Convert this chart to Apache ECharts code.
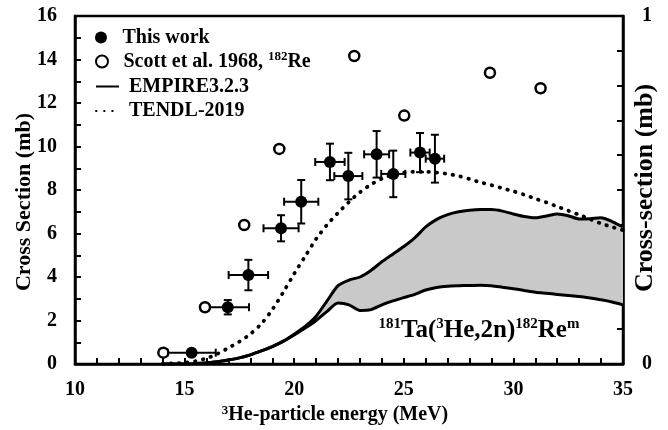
<!DOCTYPE html>
<html>
<head>
<meta charset="utf-8">
<script src="https://cdn.jsdelivr.net/npm/echarts@6/dist/echarts.min.js"></script>
<style>
  html, body { margin: 0; padding: 0; background: #fff; }
  #chart { width: 668px; height: 430px; }
</style>
</head>
<body>
<div id="chart"></div>
<script>
// Measured cross sections (this work): energy, value, and their uncertainties
const thisWorkEnergy = [15.32, 16.97, 17.91, 19.40, 20.32, 21.63, 22.47, 23.76, 24.52, 25.74, 26.42];
const thisWorkXS     = [0.52, 2.61, 4.09, 6.24, 7.46, 9.29, 8.64, 9.64, 8.74, 9.72, 9.44];
const thisWorkEErr   = [1.10, 0.97, 0.90, 0.80, 0.78, 0.67, 0.64, 0.57, 0.55, 0.44, 0.42];
const thisWorkXSErr  = [0.00, 0.33, 0.70, 0.60, 1.00, 0.84, 1.07, 1.07, 1.07, 0.90, 1.10];

// Scott et al. 1968, 182Re
const scottEnergy = [14.03, 15.93, 17.72, 19.32, 22.74, 25.02, 28.93, 31.24];
const scottXS     = [0.52, 2.61, 6.39, 9.89, 14.16, 11.42, 13.39, 12.68];

// TENDL-2019 evaluation
const tendlEnergy = [14, 14.5, 15, 15.5, 16, 16.5, 17, 17.5, 18, 18.5, 19, 19.5, 20, 20.5, 21, 21.5, 22, 22.5, 23, 23.5,
  24, 24.5, 25, 25.5, 26, 26.5, 27, 27.5, 28, 28.5, 29, 29.5, 30, 30.5, 31, 31.5, 32, 32.5, 33, 33.5, 34, 34.5, 35];
const tendlXS = [0.01, 0.03, 0.06, 0.13, 0.26, 0.47, 0.74, 1.03, 1.38, 1.85, 2.5, 3.3, 4.15, 4.95, 5.75, 6.4, 6.95, 7.45,
  7.9, 8.25, 8.52, 8.7, 8.8, 8.84, 8.84, 8.8, 8.74, 8.64, 8.5, 8.35, 8.22, 8.08, 7.94, 7.78, 7.6, 7.43, 7.24, 7.05, 6.86,
  6.66, 6.46, 6.3, 6.15];

// EMPIRE3.2.3 band: lower and upper limits
const empireEnergy = [14, 15, 15.5, 16, 16.5, 17, 17.5, 18, 18.5, 19, 19.5, 20, 20.5, 21, 21.5, 22, 22.5, 23, 23.5, 24, 24.5,
  25, 25.5, 26, 26.5, 27, 27.5, 28, 28.5, 29, 29.5, 30, 30.5, 31, 31.5, 32, 32.5, 33, 33.5, 34, 34.5, 35];
const empireLower = [0, 0, 0.02, 0.05, 0.1, 0.18, 0.28, 0.42, 0.6, 0.8, 1.04, 1.33, 1.65, 2.0, 2.42, 2.8, 2.72, 2.46, 2.5,
  2.72, 2.9, 3.05, 3.2, 3.4, 3.52, 3.58, 3.6, 3.61, 3.62, 3.6, 3.53, 3.46, 3.38, 3.3, 3.25, 3.2, 3.15, 3.1, 3.03, 2.95, 2.85, 2.72];
const empireUpper = [0, 0, 0.02, 0.05, 0.1, 0.18, 0.28, 0.42, 0.6, 0.8, 1.05, 1.37, 1.73, 2.2, 2.9, 3.6, 3.86, 4.0, 4.3,
  4.7, 5.05, 5.4, 5.8, 6.3, 6.65, 6.87, 7.0, 7.07, 7.1, 7.1, 7.03, 6.9, 6.78, 6.72, 6.8, 6.9, 6.82, 6.67, 6.68, 6.72, 6.55, 6.3];

// Axis ticks
const energyTicks = { min: 10, max: 35, step: 5 };
const xsTicks = { min: 0, max: 16, step: 2 };
const rightTicks = { min: 0, max: 1, step: 0.1 };

const SERIF = "'Liberation Serif', 'Times New Roman', serif";
const scottName = 'Scott et al. 1968, 182Re';

const zip = (a, b) => a.map((v, i) => [v, b[i]]);

const chart = echarts.init(document.getElementById('chart'), null, { renderer: 'canvas' });

const labelFont = { fontFamily: SERIF, fontWeight: 'bold', fontSize: 20, color: '#000' };

const legendCommon = {
  orient: 'vertical',
  left: 90,
  itemWidth: 23,
  itemHeight: 12,
  selectedMode: false,
  textStyle: {
    fontFamily: SERIF, fontWeight: 'bold', fontSize: 20, color: '#000', lineHeight: 22,
    padding: [0, 0, 0, 5],
    rich: {
      sup: { fontFamily: SERIF, fontWeight: 'bold', fontSize: 13, lineHeight: 14, verticalAlign: 'top', color: '#000' }
    }
  },
  formatter: n => (n === scottName ? 'Scott et al. 1968, {sup|182}Re' : n)
};

// line-only legend entries: keep the stroke, hide the marker in the middle
const lineLegend = { itemStyle: { opacity: 0 } };

const option = {
  animation: false,
  backgroundColor: '#fff',
  grid: { left: 75, right: 45, top: 16, bottom: 66, show: true, borderColor: '#000', borderWidth: 2.5 },
  legend: [
    Object.assign({ top: 21.5, data: ['This work'] }, legendCommon),
    Object.assign({ top: 45.5, data: [scottName] }, legendCommon),
    Object.assign({ top: 70.5, data: ['EMPIRE3.2.3'] }, legendCommon, lineLegend),
    Object.assign({ top: 95, data: ['TENDL-2019'] }, legendCommon, lineLegend)
  ],
  xAxis: {
    type: 'value',
    min: energyTicks.min, max: energyTicks.max, interval: energyTicks.step,
    axisLine: { lineStyle: { color: '#000', width: 2.5 } },
    axisTick: { inside: true, length: 6, lineStyle: { color: '#000', width: 2 } },
    minorTick: { show: true, splitNumber: 5, length: 6, lineStyle: { color: '#000', width: 2 } },
    axisLabel: Object.assign({ margin: 16 }, labelFont),
    splitLine: { show: false }
  },
  yAxis: [
    {
      type: 'value',
      min: xsTicks.min, max: xsTicks.max, interval: xsTicks.step,
      axisLine: { show: true, lineStyle: { color: '#000', width: 2.5 } },
      axisTick: { show: true, inside: true, length: 6, lineStyle: { color: '#000', width: 2 } },
      minorTick: { show: true, splitNumber: 2, length: 6, lineStyle: { color: '#000', width: 2 } },
      axisLabel: Object.assign({ margin: 18 }, labelFont),
      splitLine: { show: false }
    },
    {
      type: 'value',
      position: 'right',
      min: rightTicks.min, max: rightTicks.max, interval: rightTicks.step,
      axisLine: { show: true, lineStyle: { color: '#000', width: 2.5 } },
      axisTick: { show: true, inside: true, length: 6, lineStyle: { color: '#000', width: 2 } },
      axisLabel: Object.assign({
        margin: 19,
        formatter: v => (Math.abs(v) < 1e-9 ? '0' : (Math.abs(v - 1) < 1e-9 ? '1' : ''))
      }, labelFont),
      splitLine: { show: false }
    }
  ],
  graphic: [
    {
      type: 'text', x: 24, y: 202, rotation: Math.PI / 2,
      style: { text: 'Cross Section (mb)', font: 'bold 22px ' + SERIF, fill: '#000', align: 'center', verticalAlign: 'middle' }
    },
    {
      type: 'text', x: 645, y: 188, rotation: Math.PI / 2,
      style: { text: 'Cross-section (mb)', font: 'bold 26px ' + SERIF, fill: '#000', align: 'center', verticalAlign: 'middle' }
    },
    {
      type: 'text', x: 335, y: 415,
      style: {
        text: '{sup|3}He-particle energy (MeV)', align: 'center', verticalAlign: 'middle',
        font: 'bold 20px ' + SERIF, fill: '#000',
        rich: { sup: { font: 'bold 13px ' + SERIF, fill: '#000', lineHeight: 14, verticalAlign: 'top' } },
        lineHeight: 22
      }
    },
    {
      type: 'text', x: 479, y: 331, z: 100,
      style: {
        text: '{sup|181}Ta({sup|3}He,2n){sup|182}Re{sup|m}', align: 'center', verticalAlign: 'middle',
        font: 'bold 25px ' + SERIF, fill: '#000', lineHeight: 28,
        rich: { sup: { font: 'bold 15px ' + SERIF, fill: '#000', lineHeight: 16, verticalAlign: 'top' } }
      }
    }
  ],
  series: [
    {
      // shaded band between EMPIRE limits
      type: 'custom',
      silent: true,
      z: 1,
      data: [[empireEnergy[0], 0]],
      encode: { x: 0, y: 1 },
      renderItem: (params, api) => {
        const pts = [];
        for (let i = 0; i < empireEnergy.length; i++) pts.push(api.coord([empireEnergy[i], empireUpper[i]]));
        for (let i = empireEnergy.length - 1; i >= 0; i--) pts.push(api.coord([empireEnergy[i], empireLower[i]]));
        return { type: 'polygon', shape: { points: pts, smooth: 0 }, style: { fill: '#c9c9c9' } };
      }
    },
    {
      name: 'EMPIRE3.2.3',
      type: 'line',
      z: 3,
      data: zip(empireEnergy, empireUpper),
      symbol: 'none',
      smooth: 0.25,
      lineStyle: { color: '#000', width: 3 },
      itemStyle: { color: '#000' }
    },
    {
      name: 'EMPIRE lower',
      type: 'line',
      z: 3,
      data: zip(empireEnergy, empireLower),
      symbol: 'none',
      smooth: 0.25,
      lineStyle: { color: '#000', width: 3 },
      itemStyle: { color: '#000' }
    },
    {
      name: 'TENDL-2019',
      type: 'line',
      z: 4,
      data: zip(tendlEnergy, tendlXS),
      symbol: 'none',
      smooth: 0.3,
      lineStyle: { color: '#000', width: 3.8, type: [0.5, 7.6], cap: 'round' },
      itemStyle: { color: '#000' }
    },
    {
      // error bars of this work
      type: 'custom',
      z: 5,
      silent: true,
      data: thisWorkEnergy.map((e, i) => [e, thisWorkXS[i], thisWorkEErr[i], thisWorkXSErr[i]]),
      encode: { x: 0, y: 1 },
      renderItem: (params, api) => {
        const x = api.value(0), y = api.value(1), ex = api.value(2), ey = api.value(3);
        const cap = 4;
        const st = { stroke: '#000', lineWidth: 2 };
        const l = api.coord([x - ex, y]), r = api.coord([x + ex, y]);
        const children = [
          { type: 'line', shape: { x1: l[0], y1: l[1], x2: r[0], y2: r[1] }, style: st },
          { type: 'line', shape: { x1: l[0], y1: l[1] - cap, x2: l[0], y2: l[1] + cap }, style: st },
          { type: 'line', shape: { x1: r[0], y1: r[1] - cap, x2: r[0], y2: r[1] + cap }, style: st }
        ];
        if (ey > 0) {
          const t = api.coord([x, y + ey]), b = api.coord([x, y - ey]);
          children.push(
            { type: 'line', shape: { x1: t[0], y1: t[1], x2: b[0], y2: b[1] }, style: st },
            { type: 'line', shape: { x1: t[0] - cap, y1: t[1], x2: t[0] + cap, y2: t[1] }, style: st },
            { type: 'line', shape: { x1: b[0] - cap, y1: b[1], x2: b[0] + cap, y2: b[1] }, style: st }
          );
        }
        return { type: 'group', children };
      }
    },
    {
      name: scottName,
      type: 'scatter',
      z: 6,
      data: zip(scottEnergy, scottXS),
      symbol: 'circle',
      symbolSize: 10,
      itemStyle: { color: '#fff', borderColor: '#000', borderWidth: 2.5, opacity: 1 }
    },
    {
      name: 'This work',
      type: 'scatter',
      z: 7,
      data: zip(thisWorkEnergy, thisWorkXS),
      symbol: 'circle',
      symbolSize: 12,
      itemStyle: { color: '#000', opacity: 1 }
    }
  ]
};

chart.setOption(option);
</script>
</body>
</html>
